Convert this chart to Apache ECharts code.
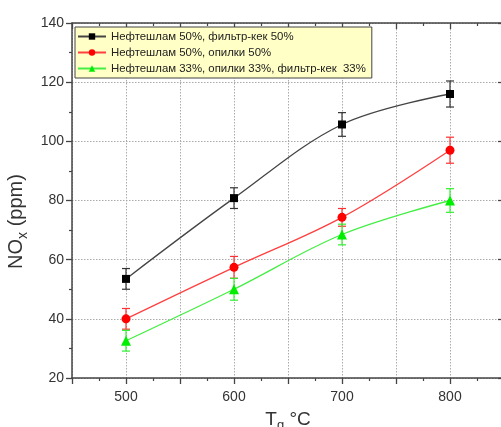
<!DOCTYPE html>
<html>
<head>
<meta charset="utf-8">
<script src="https://cdn.jsdelivr.net/npm/echarts@6/dist/echarts.min.js"></script>
<style>html,body{margin:0;padding:0;background:#fff}#c{width:501px;height:427px}</style>
</head>
<body>
<div id="c"></div>
<script>
var temps = [500, 600, 700, 800];
var names = ['Нефтешлам 50%, фильтр-кек 50%', 'Нефтешлам 50%, опилки 50%', 'Нефтешлам 33%, опилки 33%, фильтр-кек  33%'];
var blackVals = [53.5, 80.8, 105.7, 116.0];
var blackErr = [3.5, 3.5, 4.0, 4.4];
var redVals = [40.0, 57.4, 74.3, 97.0];
var redErr = [3.5, 3.7, 3.0, 4.4];
var greenVals = [32.6, 50.0, 68.5, 80.0];
var greenErr = [3.5, 3.7, 3.5, 4.0];

var FONT = 'Arial, "Liberation Sans", sans-serif';
var chart = echarts.init(document.getElementById('c'));

function pairs(vals) { return temps.map(function (t, i) { return [t, vals[i]]; }); }
function errData(vals, errs) { return temps.map(function (t, i) { return [t, vals[i] - errs[i], vals[i] + errs[i]]; }); }
function errSeries(vals, errs, color) {
  return {
    type: 'custom', z: 1, silent: true,
    data: errData(vals, errs),
    renderItem: function (params, api) {
      var lo = api.coord([api.value(0), api.value(1)]);
      var hi = api.coord([api.value(0), api.value(2)]);
      var w = 4;
      var st = { stroke: color, lineWidth: 1.2 };
      return { type: 'group', children: [
        { type: 'line', shape: { x1: lo[0], y1: lo[1], x2: hi[0], y2: hi[1] }, style: st },
        { type: 'line', shape: { x1: lo[0] - w, y1: lo[1], x2: lo[0] + w, y2: lo[1] }, style: st },
        { type: 'line', shape: { x1: hi[0] - w, y1: hi[1], x2: hi[0] + w, y2: hi[1] }, style: st }
      ]};
    }
  };
}
function lineSeries(name, vals, color, lineColor, symbol, size) {
  return {
    name: name, type: 'line', z: 3, smooth: 0.35,
    data: pairs(vals), symbol: symbol, symbolSize: size,
    itemStyle: { color: color },
    lineStyle: { color: lineColor, width: 1.3 }
  };
}
var axisLine = { show: true, lineStyle: { color: '#444', width: 1.5 } };
var split = { show: true, lineStyle: { color: '#aaa', type: [1.5, 1.5], width: 1 } };

chart.setOption({
  animation: false,
  textStyle: { fontFamily: FONT },
  grid: { left: 72, top: 23, width: 432, height: 355, outerBoundsMode: 'none', containLabel: false },
  legend: {
    left: 75, top: 27, orient: 'vertical',
    backgroundColor: '#ffffc6', borderColor: '#444', borderWidth: 1,
    padding: [4, 6, 4, 2], itemGap: 5, itemWidth: 28, itemHeight: 8,
    textStyle: { fontSize: 11.4, color: '#222', fontFamily: FONT },
    data: names
  },
  xAxis: [{
    type: 'value', min: 450, max: 850, interval: 50, position: 'bottom',
    axisLine: axisLine,
    axisTick: { show: true, inside: false, length: 6, lineStyle: { color: '#444', width: 1.3 } },
    minorTick: { show: true, splitNumber: 2, length: 3, lineStyle: { color: '#444', width: 1.2 } },
    splitLine: split,
    axisLabel: { fontSize: 14, color: '#333', margin: 12, formatter: function (v) { return v % 100 === 0 ? String(v) : ''; } },
    name: '{a|T}{b|g}{a| °C}', nameLocation: 'middle', nameGap: 30,
    nameTextStyle: { rich: {
      a: { fontSize: 19, color: '#333', lineHeight: 24, verticalAlign: 'middle', fontFamily: FONT },
      b: { fontSize: 13, color: '#333', lineHeight: 13, verticalAlign: 'bottom', fontFamily: FONT }
    } }
  }, {
    type: 'value', min: 450, max: 850, interval: 50, position: 'top',
    axisLine: axisLine,
    axisTick: { show: true, inside: true, length: 6, lineStyle: { color: '#444', width: 1.3 } },
    minorTick: { show: true, splitNumber: 2, length: 3, lineStyle: { color: '#444', width: 1.2 } },
    splitLine: { show: false }, axisLabel: { show: false }
  }],
  yAxis: [{
    type: 'value', min: 20, max: 140, interval: 20, position: 'left',
    axisLine: axisLine,
    axisTick: { show: true, inside: false, length: 6, lineStyle: { color: '#444', width: 1.3 } },
    minorTick: { show: true, splitNumber: 2, length: 3, lineStyle: { color: '#444', width: 1.2 } },
    splitLine: split,
    axisLabel: { fontSize: 14, color: '#333', margin: 8 },
    name: '{a|NO}{b|x}{a| (ppm)}', nameLocation: 'middle', nameGap: 35, nameRotate: 90,
    nameTextStyle: { padding: [0, 42, 0, 0], rich: {
      a: { fontSize: 20, color: '#333', lineHeight: 26, verticalAlign: 'middle', fontFamily: FONT },
      b: { fontSize: 14, color: '#333', lineHeight: 14, verticalAlign: 'bottom', fontFamily: FONT }
    } }
  }, {
    type: 'value', min: 20, max: 140, interval: 20, position: 'right',
    axisLine: axisLine,
    axisTick: { show: true, inside: true, length: 6, lineStyle: { color: '#444', width: 1.3 } },
    minorTick: { show: true, splitNumber: 2, length: 3, lineStyle: { color: '#444', width: 1.2 } },
    splitLine: { show: false }, axisLabel: { show: false }
  }],
  series: [
    errSeries(blackVals, blackErr, '#333'),
    errSeries(redVals, redErr, '#ff3030'),
    errSeries(greenVals, greenErr, '#33ee33'),
    lineSeries(names[0], blackVals, '#000', '#444', 'rect', 8),
    lineSeries(names[1], redVals, '#ff0000', '#ff4040', 'circle', 9),
    lineSeries(names[2], greenVals, '#00ee00', '#44ee44', 'triangle', 10)
  ]
});
</script>
</body>
</html>
